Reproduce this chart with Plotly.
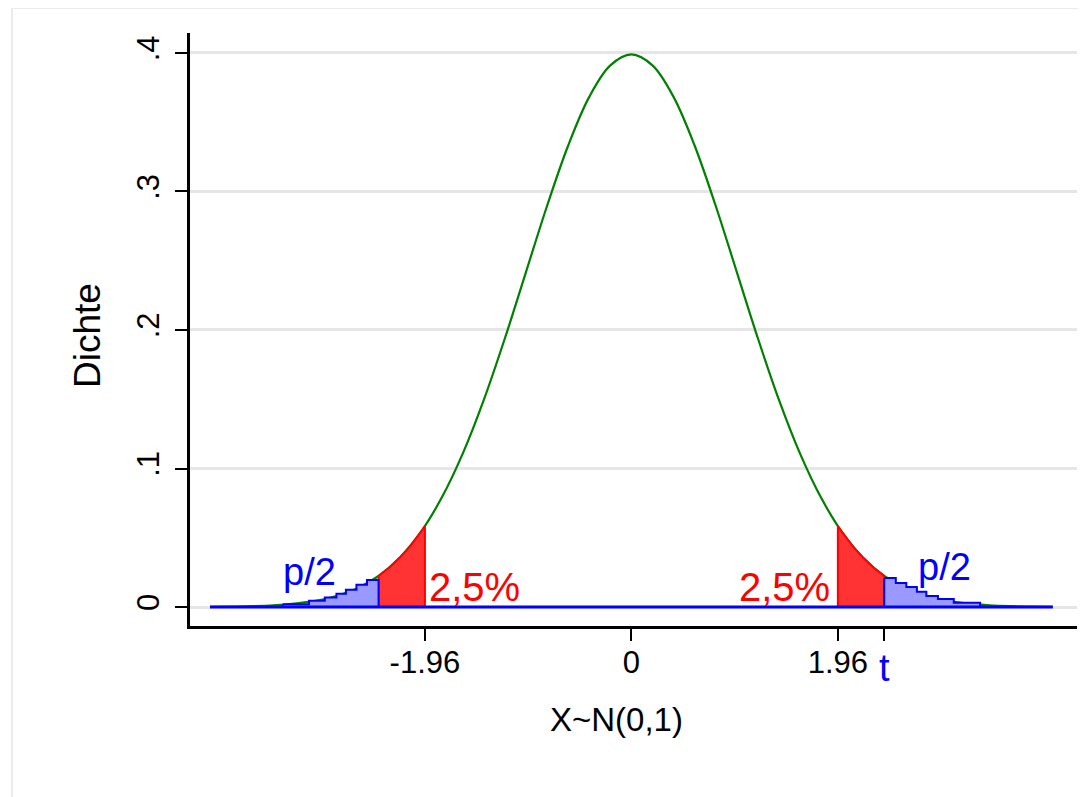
import plotly.graph_objects as go

# ---- data ----
# density curve (green)
curve_x = [-4.0, -3.8, -3.6, -3.4, -3.2, -3.0, -2.8, -2.6, -2.4, -2.2, -2.0, -1.8, -1.6, -1.4,
           -1.2, -1.0, -0.8, -0.6, -0.4, -0.2, 0.0, 0.2, 0.4, 0.6, 0.8, 1.0, 1.2, 1.4, 1.6,
           1.8, 2.0, 2.2, 2.4, 2.6, 2.8, 3.0, 3.2, 3.4, 3.6, 3.8, 4.0]
curve_y = [0.0001, 0.0003, 0.0006, 0.0012, 0.0024, 0.0044, 0.0079, 0.0136, 0.0224, 0.0355,
           0.0540, 0.0790, 0.1109, 0.1497, 0.1942, 0.2420, 0.2897, 0.3332, 0.3683, 0.3910,
           0.3989, 0.3910, 0.3683, 0.3332, 0.2897, 0.2420, 0.1942, 0.1497, 0.1109, 0.0790,
           0.0540, 0.0355, 0.0224, 0.0136, 0.0079, 0.0044, 0.0024, 0.0012, 0.0006, 0.0003, 0.0001]

# red 2.5% tail (right side; left side mirrored)
red_x = [1.96, 2.0, 2.1, 2.2, 2.3, 2.4]
red_y = [0.0584, 0.0540, 0.0440, 0.0355, 0.0283, 0.0224]

# blue p/2 tail as steps (right side)
blue_edges = [2.4, 2.51, 2.61, 2.71, 2.80, 2.91, 3.06, 3.31]
blue_heights = [0.0210, 0.0173, 0.0144, 0.0110, 0.0080, 0.0058, 0.0030]
# left side steps
blue_edges_left = [-3.31, -3.06, -2.91, -2.80, -2.71, -2.61, -2.51, -2.4]
blue_heights_left = [0.0020, 0.0045, 0.0068, 0.0095, 0.0125, 0.0160, 0.0195]

tail_range = [-4.0, 4.0]
crit = 1.96
t_value = 2.4

x_tickvals = [-1.96, 0, 1.96, 2.4]
x_ticktext = ["-1.96", "0", "1.96", ""]
y_tickvals = [0, 0.1, 0.2, 0.3, 0.4]
y_ticktext = ["0", ".1", ".2", ".3", ".4"]

FONT = "Liberation Sans, Arial, Helvetica, sans-serif"
RED = "#ff0000"
RED_FILL = "rgba(255,51,51,1)"
BLUE = "#0000ff"
BLUE_FILL = "#9999ff"
GREEN = "#008000"

# page offset (body margin) = 8px; figure drawn in figure coordinates
W, H = 1078, 789
L, R, T, B = 182, 9, 25, 171
PW, PH = W - L - R, H - T - B


def px(xpage):
    return (xpage - 8 - L) / PW


def py(ypage):
    return (H - B - (ypage - 8)) / PH


fig = go.Figure()

fig.add_trace(go.Scatter(x=curve_x, y=curve_y, mode="lines",
                         line=dict(color=GREEN, width=2.2, shape="spline"),
                         hoverinfo="skip", showlegend=False))

rx = red_x + [red_x[-1], red_x[0], red_x[0]]
ry = red_y + [0, 0, red_y[0]]
fig.add_trace(go.Scatter(x=rx, y=ry, mode="lines", fill="toself", fillcolor=RED_FILL,
                         line=dict(color=RED, width=2), hoverinfo="skip", showlegend=False))
fig.add_trace(go.Scatter(x=[-v for v in rx], y=ry, mode="lines", fill="toself", fillcolor=RED_FILL,
                         line=dict(color=RED, width=2), hoverinfo="skip", showlegend=False))


def step_poly(edges, heights):
    xs, ys = [], []
    for i, h in enumerate(heights):
        xs += [edges[i], edges[i + 1]]
        ys += [h, h]
    xs += [edges[-1], edges[0], edges[0]]
    ys += [0, 0, heights[0]]
    return xs, ys


bx, by = step_poly(blue_edges, blue_heights)
fig.add_trace(go.Scatter(x=bx, y=by, mode="lines", fill="toself", fillcolor=BLUE_FILL,
                         line=dict(color=BLUE, width=2), hoverinfo="skip", showlegend=False))
lx, ly = step_poly(blue_edges_left, blue_heights_left)
fig.add_trace(go.Scatter(x=lx, y=ly, mode="lines", fill="toself", fillcolor=BLUE_FILL,
                         line=dict(color=BLUE, width=2), hoverinfo="skip", showlegend=False))

fig.add_trace(go.Scatter(x=tail_range, y=[0, 0], mode="lines",
                         line=dict(color=BLUE, width=3), hoverinfo="skip", showlegend=False))

ann_font = dict(family=FONT, size=38)
pct_font = dict(family=FONT, size=40)
annotations = [
    dict(x=-3.06, y=0.0255, text="p/2", font=dict(ann_font, color=BLUE), showarrow=False,
         xanchor="center", yanchor="middle"),
    dict(x=2.97, y=0.029, text="p/2", font=dict(ann_font, color=BLUE), showarrow=False,
         xanchor="center", yanchor="middle"),
    dict(x=-crit, y=0.0145, text="2,5%", font=dict(pct_font, color=RED), showarrow=False,
         xanchor="left", yanchor="middle", xshift=2),
    dict(x=crit, y=0.0145, text="2,5%", font=dict(pct_font, color=RED), showarrow=False,
         xanchor="right", yanchor="middle", xshift=-6),
    dict(x=t_value, xref="x", y=py(668), yref="paper", text="t",
         font=dict(family=FONT, size=38, color=BLUE), showarrow=False,
         xanchor="center", yanchor="middle"),
    dict(x=px(616), xref="paper", y=py(720), yref="paper", text="X~N(0,1)",
         font=dict(family=FONT, size=33, color="black"), showarrow=False,
         xanchor="center", yanchor="middle"),
    dict(x=px(88), xref="paper", y=py(336), yref="paper", text="Dichte",
         font=dict(family=FONT, size=37, color="black"), showarrow=False, textangle=-90,
         xanchor="center", yanchor="middle"),
]

fig.update_layout(
    width=W, height=H,
    margin=dict(l=L, r=R, t=T, b=B),
    paper_bgcolor="white", plot_bgcolor="white",
    showlegend=False,
    annotations=annotations,
    shapes=[dict(type="rect", xref="paper", yref="paper",
                 x0=px(12), x1=px(1100), y0=py(810), y1=py(8),
                 line=dict(color="#ebebeb", width=2), fillcolor="rgba(0,0,0,0)", layer="below")],
    xaxis=dict(range=[-4.19, 4.23], tickvals=x_tickvals, ticktext=x_ticktext,
               showgrid=False, zeroline=False, showline=True, linecolor="black", linewidth=2.5,
               ticks="outside", ticklen=12, tickwidth=2, tickcolor="black",
               ticklabelstandoff=-5,
               tickfont=dict(family=FONT, size=31, color="black")),
    yaxis=dict(range=[-0.0137, 0.4144], tickvals=y_tickvals, ticktext=y_ticktext,
               showgrid=True, gridcolor="#e6e6e6", gridwidth=2.5, zeroline=False,
               showline=True, linecolor="black", linewidth=2.5,
               ticks="outside", ticklen=12, tickwidth=2, tickcolor="black", tickangle=-90,
               ticklabelstandoff=4,
               tickfont=dict(family=FONT, size=31, color="black")),
)

fig.write_html("out.html")
